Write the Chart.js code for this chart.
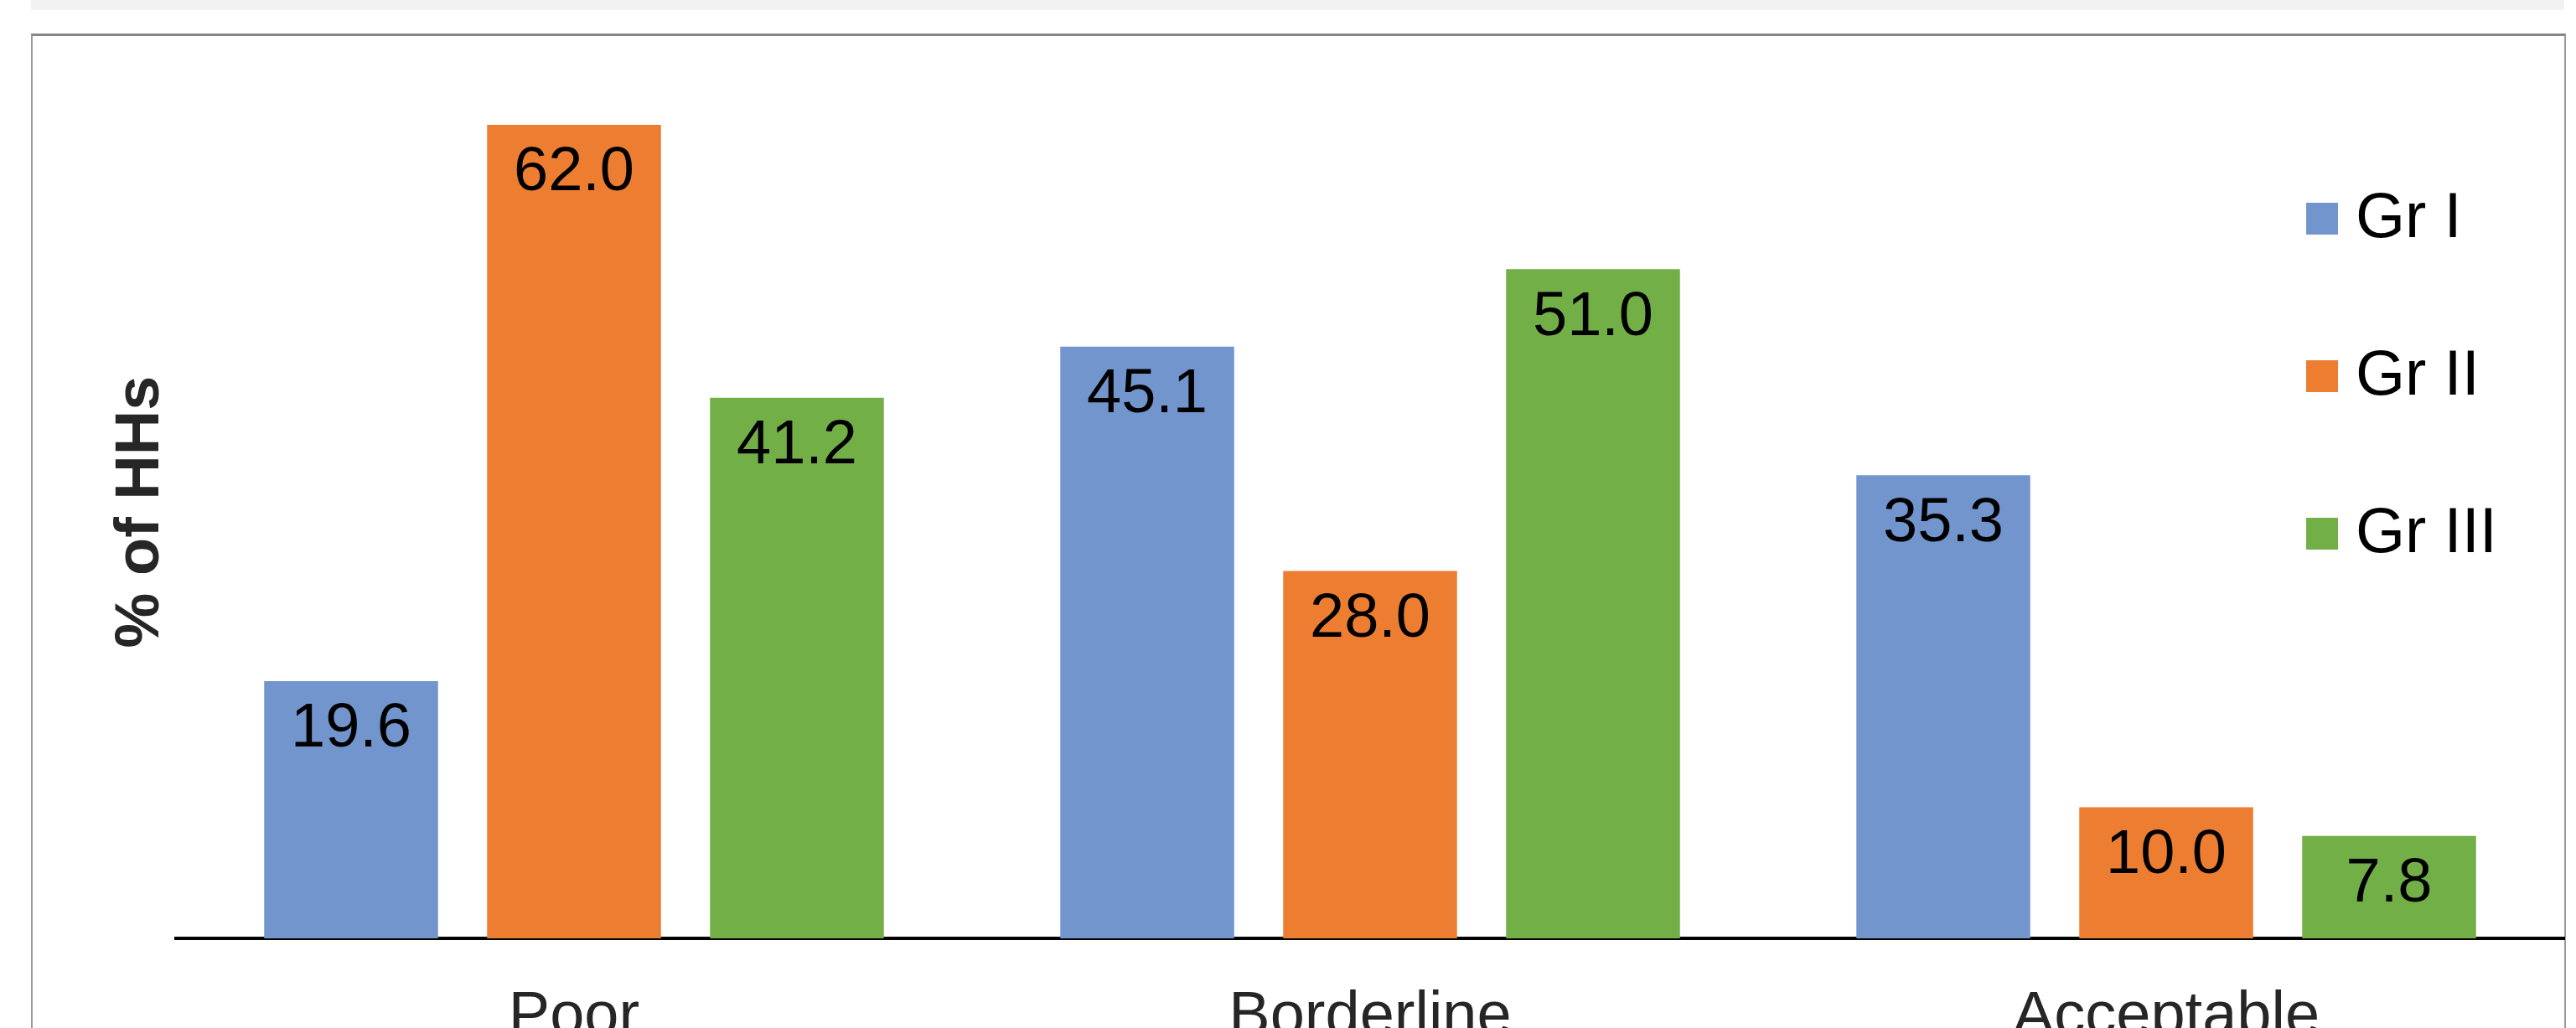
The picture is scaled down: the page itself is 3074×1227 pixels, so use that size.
<!DOCTYPE html>
<html>
<head>
<meta charset="utf-8">
<script src="https://cdn.jsdelivr.net/npm/chart.js@4/dist/chart.umd.min.js"></script>
<style>
  html, body { margin: 0; padding: 0; background: #fff; overflow: hidden; }
  body { width: 3074px; height: 1227px; position: relative; }
  .band { position: absolute; left: 37px; top: 0; width: 3023px; height: 12px; background: #f2f2f2; }
  .frame { position: absolute; left: 37px; top: 40px; width: 3021px; height: 1300px;
           border-top: 3px solid #868686; border-left: 2px solid #9a9a9a; border-right: 2px solid #9a9a9a; }
  #hhChart { position: absolute; left: 0; top: 0; }
</style>
</head>
<body>
<div class="band"></div>
<div class="frame"></div>
<canvas id="hhChart" width="3074" height="1227"></canvas>
<script>
// Chart data
const categories = ['Poor', 'Borderline', 'Acceptable'];
const groupLabels = ['Gr I', 'Gr II', 'Gr III'];
const grI = [19.6, 45.1, 35.3];
const grII = [62.0, 28.0, 10.0];
const grIII = [41.2, 51.0, 7.8];
const groupColors = ['#7295cd', '#ed7d31', '#72af47'];

const FONT = "'Liberation Sans', Arial, sans-serif";

// Value labels drawn inside the top of each bar
const barValueLabels = {
  id: 'barValueLabels',
  afterDatasetsDraw(chart) {
    const ctx = chart.ctx;
    ctx.save();
    ctx.font = `74px ${FONT}`;
    ctx.fillStyle = '#000';
    ctx.textAlign = 'center';
    ctx.textBaseline = 'middle';
    chart.data.datasets.forEach((ds, i) => {
      chart.getDatasetMeta(i).data.forEach((bar, j) => {
        ctx.fillText(ds.data[j].toFixed(1), bar.x, bar.y + 58);
      });
    });
    ctx.restore();
  },
};

// Vertical legend on the right, over the plot area
const sideLegend = {
  id: 'sideLegend',
  afterDraw(chart) {
    const ctx = chart.ctx;
    ctx.save();
    ctx.font = `76px ${FONT}`;
    ctx.textBaseline = 'middle';
    chart.data.datasets.forEach((ds, i) => {
      const top = 242 + i * 188;
      ctx.fillStyle = ds.backgroundColor;
      ctx.fillRect(2752, top, 38, 38);
      ctx.fillStyle = '#000';
      ctx.fillText(ds.label, 2811, top + 20);
    });
    ctx.restore();
  },
};

const ctx = document.getElementById('hhChart').getContext('2d');
// eslint-disable-next-line no-undef
new Chart(ctx, {
  type: 'bar',
  data: {
    labels: categories,
    datasets: [grI, grII, grIII].map((values, i) => ({
      label: groupLabels[i],
      data: values,
      backgroundColor: groupColors[i],
      categoryPercentage: 0.84,
      barPercentage: 0.78,
    })),
  },
  options: {
    responsive: false,
    animation: false,
    layout: { padding: { top: 102, right: 14, left: 112, bottom: 0 } },
    plugins: {
      legend: { display: false },
      tooltip: { enabled: false },
    },
    scales: {
      x: {
        grid: { display: false },
        border: { display: true, color: '#000', width: 4 },
        ticks: { color: '#262626', font: { family: FONT, size: 74 }, padding: 42 },
        afterFit: (scale) => { scale.height = 107; },
      },
      y: {
        min: 0,
        max: 65,
        grid: { display: false },
        border: { display: false },
        ticks: { display: false },
        title: {
          display: true,
          text: '% of HHs',
          color: '#262626',
          font: { family: FONT, size: 74, weight: 'bold' },
          padding: { top: 12, bottom: 2 },
        },
        afterFit: (scale) => { scale.width = 98; },
      },
    },
  },
  plugins: [barValueLabels, sideLegend],
});
</script>
</body>
</html>
